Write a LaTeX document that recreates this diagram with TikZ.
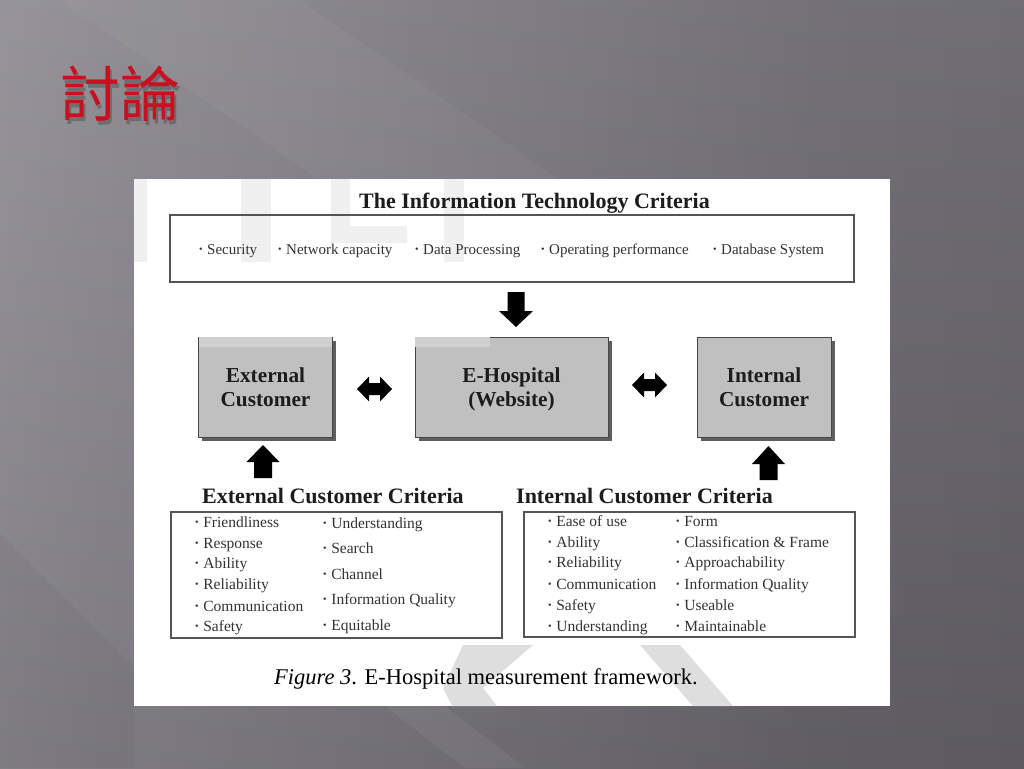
\documentclass[tikz,border=0pt]{standalone}
\usepackage{fontspec}
\setmainfont{Liberation Serif}
\newfontfamily\cjk{Noto Sans CJK TC}
\usetikzlibrary{shadows}
\definecolor{titlered}{RGB}{200,16,30}
\definecolor{txtdark}{RGB}{28,28,28}
\definecolor{txtgray}{RGB}{50,50,50}
\definecolor{framegray}{RGB}{85,85,85}
\definecolor{boxfill}{RGB}{192,192,192}
\definecolor{boxhi}{RGB}{208,208,208}
\definecolor{boxline}{RGB}{70,70,70}
\definecolor{shadowgray}{RGB}{95,95,95}
\definecolor{wmark}{RGB}{240,240,240}
\definecolor{wmarkb}{RGB}{222,222,222}
\definecolor{bgA}{RGB}{172,170,175}
\definecolor{bgB}{RGB}{136,134,140}
\definecolor{bgC}{RGB}{104,102,108}
\definecolor{bgD}{RGB}{90,88,94}
\pgfdeclarehorizontalshading{bgshade}{100bp}{color(0bp)=(bgA); color(30bp)=(bgB); color(65bp)=(bgC); color(100bp)=(bgD)}
\newcommand{\bul}{\raisebox{0.22ex}{\fontsize{10}{10}\selectfont\textbullet}\hspace{0.3em}}
\begin{document}
\begin{tikzpicture}[x=1pt,y=-1pt,
  itm/.style={anchor=base west, inner sep=0pt, font=\fontsize{15.5}{18}\selectfont, text=txtgray},
  ititm/.style={anchor=base west, inner sep=0pt, font=\fontsize{15}{18}\selectfont, text=txtgray},
  hdr/.style={anchor=base, inner sep=0pt, font=\bfseries\fontsize{22}{24}\selectfont, text=txtdark},
  frame/.style={draw=framegray, line width=1.1pt},
  gbox/.style={draw=boxline, fill=boxfill, line width=1pt, inner sep=0pt,
     drop shadow={shadow xshift=3.5pt, shadow yshift=-3.5pt, fill=shadowgray, opacity=1}},
  boxlbl/.style={align=center, text=txtdark, font=\bfseries\fontsize{21.3}{24}\selectfont, inner sep=0pt},
  ttl/.style={inner sep=0pt, font=\cjk\fontsize{60}{60}\selectfont},
  blk/.style={fill=black}]
\useasboundingbox (0,0) rectangle (1024,768);
% slide background
\shade[shading=bgshade] (0,0) rectangle (1024,768);
\shade[top color=white, bottom color=black, opacity=0.08] (0,0) rectangle (1024,768);
\fill[white, opacity=0.035] (60,0) -- (300,0) -- (560,180) -- (320,180) -- cycle;
\fill[black, opacity=0.035] (0,533) -- (134,667) -- (134,768) -- (0,768) -- cycle;
\fill[white, opacity=0.05] (385,706) -- (445,706) -- (525,768) -- (465,768) -- cycle;
% title with soft shadow
\node[ttl, text=black, opacity=0.22] (titleshadow) at (122.5,97.5) {討論};
\node[ttl, text=titlered] (title) at (120,94) {討論};
% figure panel
\fill[white] (134,179) rectangle (890,706);
% faint watermark
\fill[wmark] (134,179) rectangle (147,262);
\fill[wmark] (241,179) rectangle (271,262);
\fill[wmark] (444,179) rectangle (464,262);
\fill[wmark, even odd rule] (331,179) -- (407,179) -- (407,243) -- (331,243) -- cycle
  (350,179) -- (407,179) -- (407,226) -- (350,226) -- cycle;
\fill[wmarkb] (463,645) -- (533,645) -- (483,688) -- (497,706) -- (452,706) -- (443,688) -- cycle;
\fill[wmarkb] (640,645) -- (680,645) -- (733,706) -- (693,706) -- cycle;
% IT criteria
\node[hdr] (ithdr) at (534.5,208) {The Information Technology Criteria};
\node[frame, minimum width=684pt, minimum height=67pt, inner sep=0pt] (itbox) at (512,248.5) {};
\node[ititm] (it1) at (199,254) {\bul Security};
\node[ititm] (it2) at (278,254) {\bul Network capacity};
\node[ititm] (it3) at (415,254) {\bul Data Processing};
\node[ititm] (it4) at (541,254) {\bul Operating performance};
\node[ititm] (it5) at (713,254) {\bul Database System};
% down arrow
\fill[blk] (507.5,292) -- (524.5,292) -- (524.5,311) -- (533,311) -- (516,327) -- (499,311) -- (507.5,311) -- cycle;
% main boxes
\node[gbox, minimum width=134pt, minimum height=100pt] (ext) at (265.5,387) {};
\fill[boxhi] ([shift={(0.6pt,-0.6pt)}]ext.north west) rectangle ([shift={(-0.6pt,-10pt)}]ext.north east);
\node[gbox, minimum width=193pt, minimum height=100pt] (eh) at (511.5,387) {};
\fill[boxhi] ([shift={(0.6pt,-0.6pt)}]eh.north west) rectangle ([shift={(75pt,-10pt)}]eh.north west);
\node[gbox, minimum width=134pt, minimum height=100pt] (int) at (764,387) {};
\node[boxlbl] (extlbl) at (ext.center) {External\\Customer};
\node[boxlbl] (ehlbl) at ([yshift=-2pt]eh.center) {E-Hospital\\(Website)};
\node[boxlbl] (intlbl) at (int.center) {Internal\\Customer};
% double arrows
\fill[blk] (357,389) -- (369,376.5) -- (369,383) -- (380,383) -- (380,376.5) -- (392,389) -- (380,401.5) -- (380,395) -- (369,395) -- (369,401.5) -- cycle;
\fill[blk] (632,385) -- (644,372.5) -- (644,379) -- (655,379) -- (655,372.5) -- (667,385) -- (655,397.5) -- (655,391) -- (644,391) -- (644,397.5) -- cycle;
% up arrows
\fill[blk] (254,478) -- (272,478) -- (272,462) -- (279.5,462) -- (263,445) -- (246.5,462) -- (254,462) -- cycle;
\fill[blk] (759.5,480) -- (777.5,480) -- (777.5,464) -- (785,464) -- (768.5,446) -- (752,464) -- (759.5,464) -- cycle;
% external criteria
\node[hdr, anchor=base west] (exthdr) at (202,503) {External Customer Criteria};
\node[frame, minimum width=331pt, minimum height=126pt, inner sep=0pt] (extbox) at (336.5,575) {};
\node[itm] at (195,527) {\bul Friendliness};
\node[itm] at (195,548) {\bul Response};
\node[itm] at (195,568) {\bul Ability};
\node[itm] at (195,589) {\bul Reliability};
\node[itm] at (195,611) {\bul Communication};
\node[itm] at (195,631) {\bul Safety};
\node[itm] at (323,528) {\bul Understanding};
\node[itm] at (323,553) {\bul Search};
\node[itm] at (323,579) {\bul Channel};
\node[itm] at (323,604) {\bul Information Quality};
\node[itm] at (323,630) {\bul Equitable};
% internal criteria
\node[hdr, anchor=base west] (inthdr) at (516,503) {Internal Customer Criteria};
\node[frame, minimum width=331pt, minimum height=125pt, inner sep=0pt] (intbox) at (689.5,574.5) {};
\node[itm] at (548,526) {\bul Ease of use};
\node[itm] at (548,547) {\bul Ability};
\node[itm] at (548,567) {\bul Reliability};
\node[itm] at (548,589) {\bul Communication};
\node[itm] at (548,610) {\bul Safety};
\node[itm] at (548,631) {\bul Understanding};
\node[itm] at (676,526) {\bul Form};
\node[itm] at (676,547) {\bul Classification \& Frame};
\node[itm] at (676,567) {\bul Approachability};
\node[itm] at (676,589) {\bul Information Quality};
\node[itm] at (676,610) {\bul Useable};
\node[itm] at (676,631) {\bul Maintainable};
% caption
\node[anchor=base west, inner sep=0pt, text=black, font=\fontsize{22.5}{24}\selectfont] (cap) at (274,684) {\textit{Figure 3}. E-Hospital measurement framework.};
\end{tikzpicture}
\end{document}
